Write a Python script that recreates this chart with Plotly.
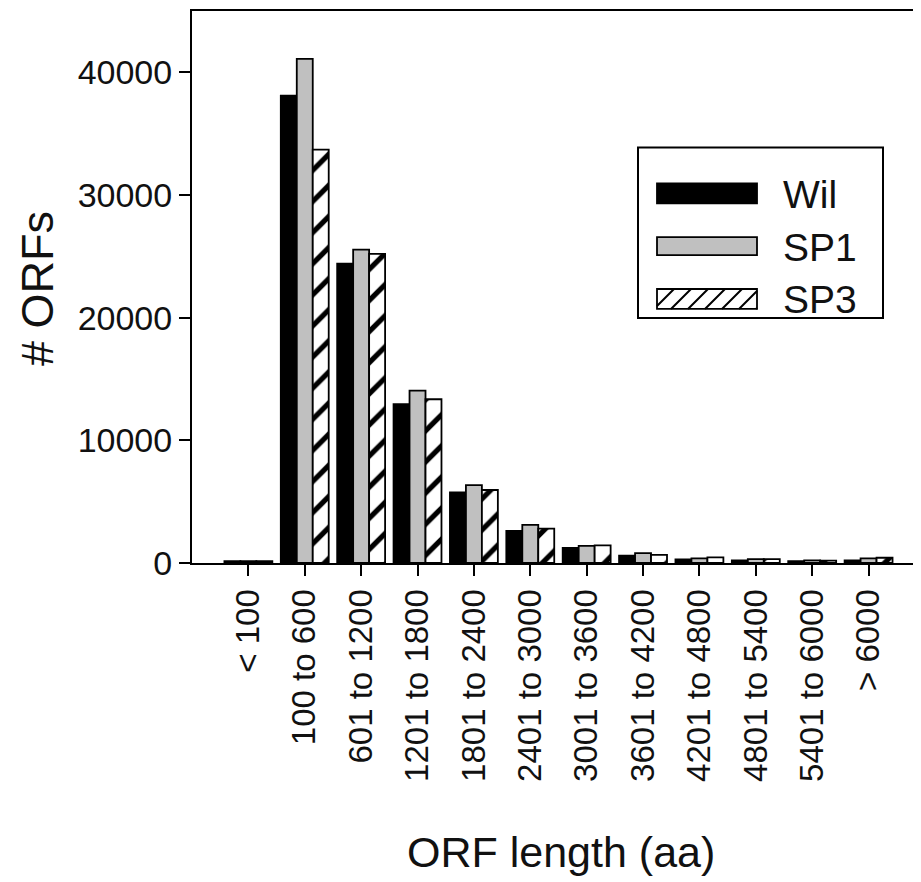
import plotly.graph_objects as go

categories = ["< 100", "100 to 600", "601 to 1200", "1201 to 1800", "1801 to 2400",
              "2401 to 3000", "3001 to 3600", "3601 to 4200", "4201 to 4800",
              "4801 to 5400", "5401 to 6000", "> 6000"]
wil = [150, 38100, 24400, 12950, 5750, 2620, 1240, 590, 300, 220, 160, 220]
sp1 = [160, 41100, 25550, 14050, 6350, 3100, 1400, 810, 380, 320, 220, 380]
sp3 = [150, 33700, 25200, 13350, 5950, 2810, 1430, 670, 460, 320, 200, 430]
series_names = ["Wil", "SP1", "SP3"]
y_ticks = [0, 10000, 20000, 30000, 40000]

FONT = "Liberation Sans, Arial, sans-serif"
OFF = 8  # page body margin offset
W, H = 921, 882
# plot area in reference (screen) pixels
PL, PR, PT, PB = 192, 921, 9, 563
L = PL - OFF
T = PT - OFF
R = W - (PR - OFF)
B = H - (PB - OFF)
pw, ph = W - L - R, H - T - B

def px(x):
    return (x - PL) / pw

def py(y):
    return (PB - y) / ph

fig = go.Figure()
fig.add_trace(go.Bar(x=categories, y=wil, name=series_names[0],
                     marker=dict(color="black", line=dict(color="black", width=1.8))))
fig.add_trace(go.Bar(x=categories, y=sp1, name=series_names[1],
                     marker=dict(color="#c0c0c0", line=dict(color="black", width=1.8))))
fig.add_trace(go.Bar(x=categories, y=sp3, name=series_names[2],
                     marker=dict(color="white", line=dict(color="black", width=1.8),
                                 pattern=dict(shape="/", fgcolor="black", bgcolor="white",
                                              fgopacity=1, size=22, solidity=0.24))))

fig.update_layout(
    width=W, height=H,
    margin=dict(l=L, r=R, t=T, b=B, pad=0),
    paper_bgcolor="white", plot_bgcolor="white",
    barmode="group", bargap=0.15, bargroupgap=0,
    showlegend=False,
    font=dict(family=FONT, color="black"),
)
fig.update_xaxes(type="category", range=[-1.0, 11.93], showgrid=False,
                 showline=True, linecolor="black", linewidth=2, mirror=True,
                 ticks="outside", ticklen=11, tickwidth=2, tickcolor="black",
                 tickangle=-90, tickfont=dict(size=33, family=FONT, color="#111"))
fig.update_yaxes(range=[0, 45000], tickvals=y_ticks, tickformat="d",
                 showgrid=False, zeroline=False,
                 showline=True, linecolor="black", linewidth=2,
                 ticks="outside", ticklen=11, tickwidth=2, tickcolor="black",
                 tickfont=dict(size=34, family=FONT, color="#111"))

# axis titles
fig.add_annotation(x=px(561), y=py(853), xref="paper", yref="paper", text="ORF length (aa)",
                   showarrow=False, font=dict(size=43, family=FONT, color="#111"),
                   xanchor="center", yanchor="middle")
fig.add_annotation(x=px(38), y=py(288), xref="paper", yref="paper", text="# ORFs",
                   showarrow=False, textangle=-90, font=dict(size=45, family=FONT, color="#111"),
                   xanchor="center", yanchor="middle")

# legend box
shapes = [dict(type="rect", xref="paper", yref="paper", x0=px(638), x1=px(883),
               y0=py(317), y1=py(146), line=dict(color="black", width=2), fillcolor="white")]
sym_x0, sym_x1 = 657, 757
rows = [(182, 202, "black"), (236, 254, "#c0c0c0"), (288, 308, "white")]
for (y0, y1, col) in rows:
    shapes.append(dict(type="rect", xref="paper", yref="paper", x0=px(sym_x0), x1=px(sym_x1),
                       y0=py(y1), y1=py(y0), line=dict(color="black", width=1.8), fillcolor=col))
# hatch lines for SP3 legend symbol
hy0, hy1 = 288, 308
hh = hy1 - hy0
path = ""
step = 17
xs = sym_x0 - hh
while xs < sym_x1:
    xa, ya = xs, hy1
    xb, yb = xs + hh, hy0
    if xa < sym_x0:
        ya = hy1 - (sym_x0 - xa)
        xa = sym_x0
    if xb > sym_x1:
        yb = hy0 + (xb - sym_x1)
        xb = sym_x1
    if xb > xa:
        path += f"M {px(xa):.5f},{py(ya):.5f} L {px(xb):.5f},{py(yb):.5f} "
    xs += step
shapes.append(dict(type="path", xref="paper", yref="paper", path=path,
                   line=dict(color="black", width=2)))
fig.update_layout(shapes=shapes)

for (y0, y1, _), name in zip(rows, series_names):
    fig.add_annotation(x=px(781), y=py((y0 + y1) / 2 + 1), xref="paper", yref="paper",
                       text=name, showarrow=False, xanchor="left", yanchor="middle",
                       font=dict(size=39, family=FONT, color="#111"))

fig.write_html("out.html")
